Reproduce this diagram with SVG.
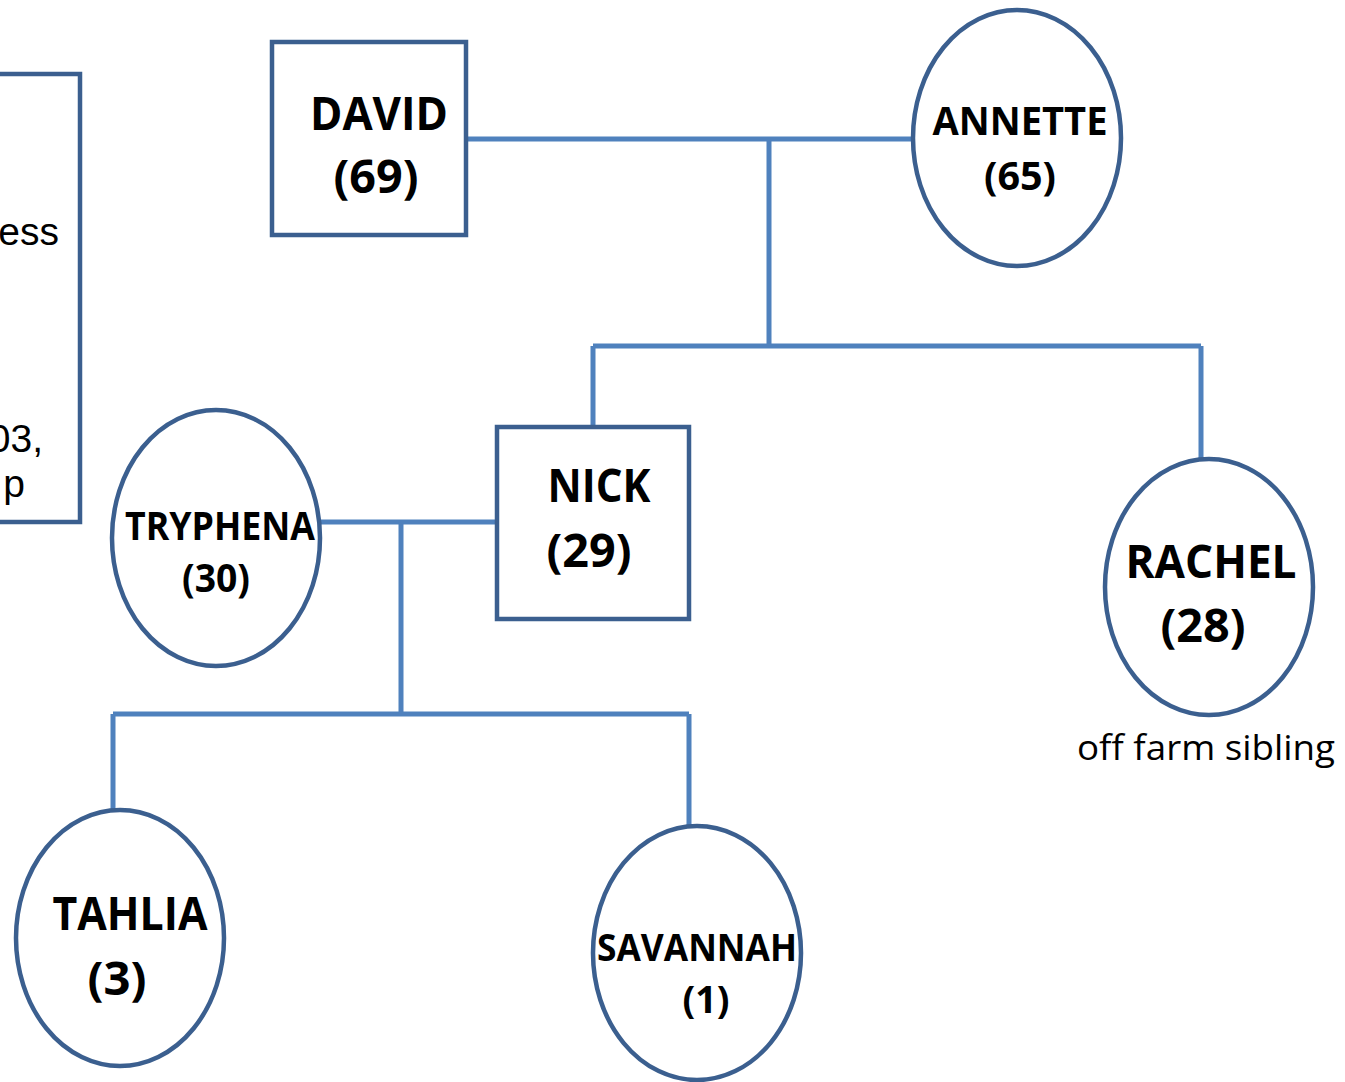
<svg xmlns="http://www.w3.org/2000/svg" width="1345" height="1082" viewBox="0 0 1345 1082">
<style>
.node{fill:#fff;stroke:#3B5F8F;stroke-width:4.5}
.conn{fill:none;stroke:#4F81BD;stroke-width:5}
.b{font-family:"Open Sans","Noto Sans","Liberation Sans",sans-serif;font-weight:bold;fill:#000;text-anchor:middle}
.r{font-family:"Open Sans","Noto Sans","Liberation Sans",sans-serif;fill:#000;text-anchor:middle}
.a{font-family:"Liberation Sans",Arial,sans-serif;fill:#000;text-anchor:end;font-size:39px}
</style>
<rect width="1345" height="1082" fill="#fff"/>
<g id="connectors">
<path class="conn" d="M466 139H913M769 139V346M593 346H1201M593 346V427M1201 346V459"/>
<path class="conn" d="M321 522H497M401 522V714M113 714H689M113 714V810M689 714V826"/>
</g>
<g id="left-box">
<rect class="node" x="-20" y="74" width="100" height="448"/>
<text class="a" x="59" y="245">ess</text>
<text class="a" x="43" y="452">03,</text>
<text class="a" x="25" y="497">p</text>
</g>
<g id="david">
<rect class="node" x="272" y="42" width="194" height="193"/>
<text class="b" font-size="47" x="379" y="130" textLength="138" lengthAdjust="spacingAndGlyphs">DAVID</text>
<text class="b" font-size="47" x="376" y="193" textLength="85" lengthAdjust="spacingAndGlyphs">(69)</text>
</g>
<g id="annette">
<ellipse class="node" cx="1017" cy="138" rx="104" ry="128"/>
<text class="b" font-size="39" x="1020" y="135" textLength="175" lengthAdjust="spacingAndGlyphs">ANNETTE</text>
<text class="b" font-size="39" x="1020" y="190" textLength="72" lengthAdjust="spacingAndGlyphs">(65)</text>
</g>
<g id="nick">
<rect class="node" x="497" y="427" width="192" height="192"/>
<text class="b" font-size="47" x="599" y="502" textLength="103" lengthAdjust="spacingAndGlyphs">NICK</text>
<text class="b" font-size="47" x="589" y="567" textLength="85" lengthAdjust="spacingAndGlyphs">(29)</text>
</g>
<g id="rachel">
<ellipse class="node" cx="1209" cy="587" rx="104" ry="128"/>
<text class="b" font-size="47" x="1211" y="578" textLength="171" lengthAdjust="spacingAndGlyphs">RACHEL</text>
<text class="b" font-size="47" x="1203" y="642" textLength="85" lengthAdjust="spacingAndGlyphs">(28)</text>
<text class="r" font-size="35" x="1206" y="760" textLength="258" lengthAdjust="spacingAndGlyphs">off farm sibling</text>
</g>
<g id="tryphena">
<ellipse class="node" cx="216" cy="538" rx="104" ry="128"/>
<text class="b" font-size="39" x="220" y="540" textLength="190" lengthAdjust="spacingAndGlyphs">TRYPHENA</text>
<text class="b" font-size="39" x="216" y="592" textLength="68" lengthAdjust="spacingAndGlyphs">(30)</text>
</g>
<g id="tahlia">
<ellipse class="node" cx="120" cy="938" rx="104" ry="128"/>
<text class="b" font-size="47" x="130" y="930" textLength="155" lengthAdjust="spacingAndGlyphs">TAHLIA</text>
<text class="b" font-size="47" x="117" y="995" textLength="59" lengthAdjust="spacingAndGlyphs">(3)</text>
</g>
<g id="savannah">
<ellipse class="node" cx="697" cy="953" rx="104" ry="127"/>
<text class="b" font-size="38" x="697" y="961" textLength="200" lengthAdjust="spacingAndGlyphs">SAVANNAH</text>
<text class="b" font-size="38" x="706" y="1013" textLength="47" lengthAdjust="spacingAndGlyphs">(1)</text>
</g>
</svg>
